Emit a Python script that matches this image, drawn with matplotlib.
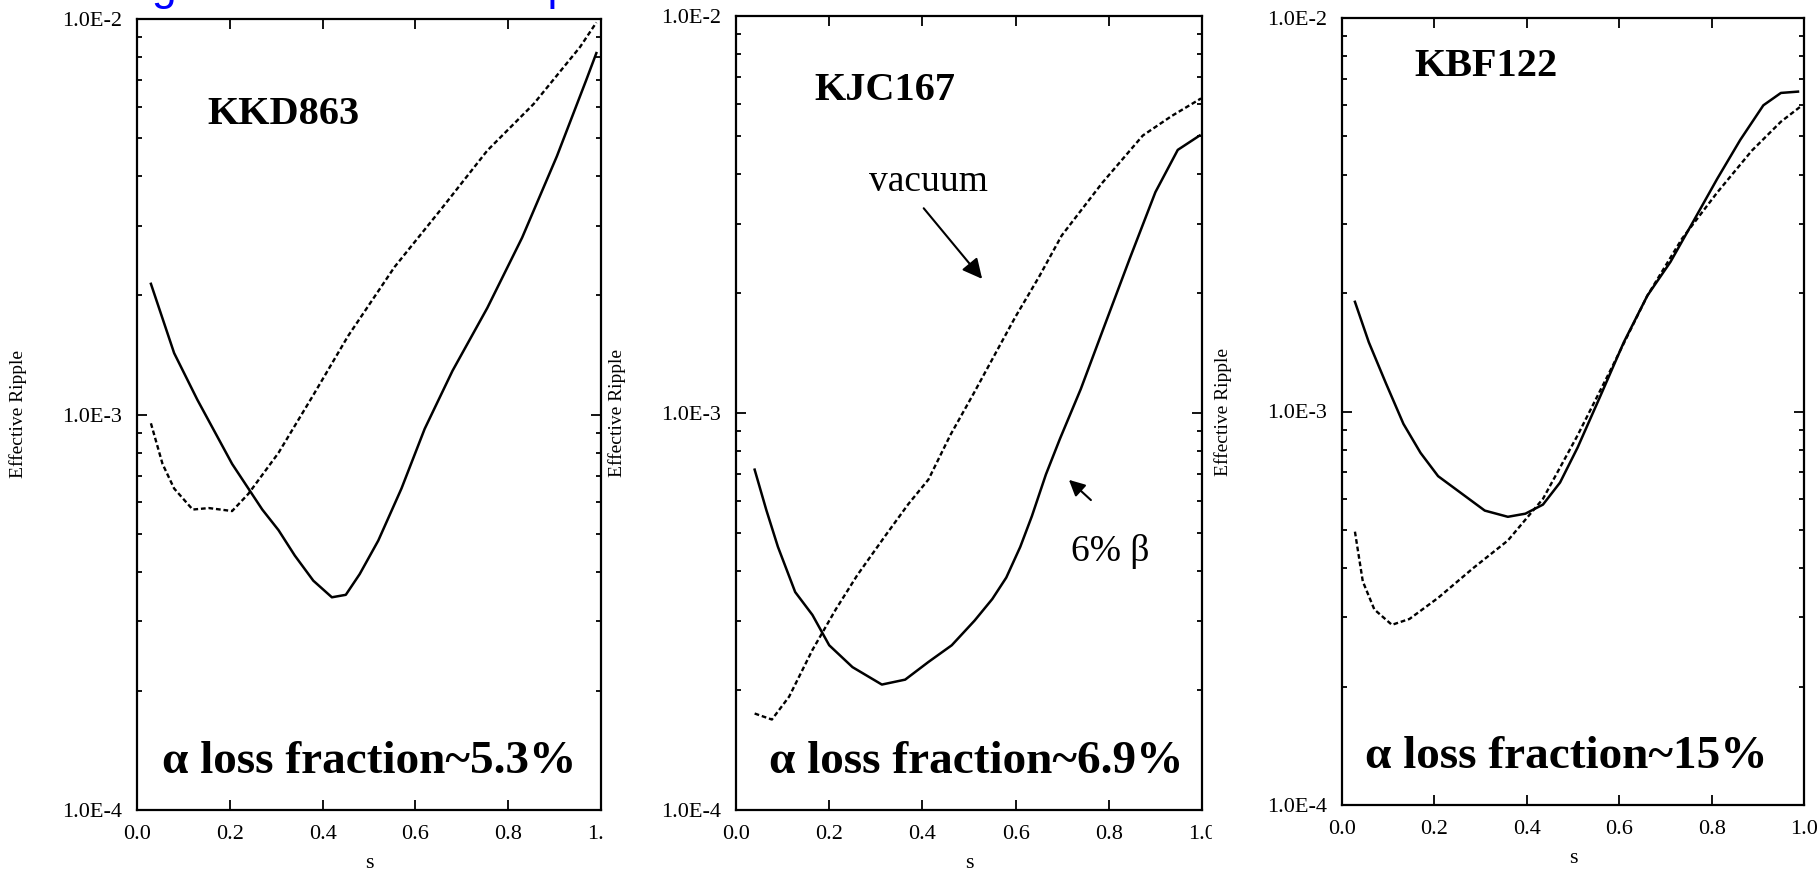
import numpy as np
import matplotlib.pyplot as plt
from matplotlib.ticker import FixedLocator, FixedFormatter, LogLocator, NullFormatter
from matplotlib.patches import Rectangle

plt.rcParams['font.family'] = ['Liberation Serif', 'DejaVu Serif']

# --- effective ripple vs s, read per configuration ---
names = ["KKD863", "KJC167", "KBF122"]
loss_labels = ["\u03b1 loss fraction~5.3%", "\u03b1 loss fraction~6.9%", "\u03b1 loss fraction~15%"]

kkd_s_solid = [0.03, 0.08, 0.13, 0.205, 0.27, 0.305, 0.34, 0.38, 0.42, 0.45, 0.48, 0.52,
               0.57, 0.62, 0.68, 0.755, 0.83, 0.905, 0.968, 0.99]
kkd_solid = [2.14e-3, 1.43e-3, 1.09e-3, 7.5e-4, 5.75e-4, 5.1e-4, 4.4e-4, 3.8e-4, 3.45e-4,
             3.5e-4, 3.95e-4, 4.8e-4, 6.5e-4, 9.2e-4, 1.29e-3, 1.86e-3, 2.8e-3, 4.5e-3,
             7.0e-3, 8.2e-3]
kkd_s_vac = [0.03, 0.055, 0.08, 0.12, 0.155, 0.205, 0.24, 0.305, 0.38, 0.455, 0.555, 0.655,
             0.755, 0.855, 0.955, 0.99]
kkd_vac = [9.5e-4, 7.5e-4, 6.5e-4, 5.75e-4, 5.8e-4, 5.7e-4, 6.3e-4, 8.0e-4, 1.12e-3, 1.58e-3,
           2.36e-3, 3.3e-3, 4.65e-3, 6.1e-3, 8.5e-3, 9.8e-3]

kjc_s_solid = [0.04, 0.065, 0.09, 0.127, 0.164, 0.2, 0.25, 0.313, 0.363, 0.413, 0.463, 0.512,
               0.55, 0.58, 0.61, 0.635, 0.665, 0.695, 0.74, 0.79, 0.845, 0.9, 0.948, 0.995]
kjc_solid = [7.2e-4, 5.7e-4, 4.6e-4, 3.54e-4, 3.1e-4, 2.6e-4, 2.29e-4, 2.07e-4, 2.13e-4,
             2.36e-4, 2.6e-4, 3.0e-4, 3.4e-4, 3.85e-4, 4.6e-4, 5.5e-4, 7.0e-4, 8.6e-4,
             1.15e-3, 1.65e-3, 2.45e-3, 3.6e-3, 4.6e-3, 5.0e-3]
kjc_s_vac = [0.04, 0.077, 0.114, 0.164, 0.214, 0.26, 0.32, 0.37, 0.413, 0.46, 0.51, 0.562,
             0.6, 0.65, 0.699, 0.786, 0.873, 0.935, 0.998]
kjc_vac = [1.75e-4, 1.69e-4, 1.93e-4, 2.53e-4, 3.2e-4, 3.9e-4, 4.9e-4, 5.9e-4, 6.8e-4, 8.8e-4,
           1.12e-3, 1.45e-3, 1.75e-3, 2.2e-3, 2.8e-3, 3.8e-3, 5.0e-3, 5.6e-3, 6.2e-3]

kbf_s_solid = [0.028, 0.058, 0.095, 0.133, 0.17, 0.208, 0.258, 0.309, 0.359, 0.397, 0.435,
               0.472, 0.51, 0.56, 0.61, 0.661, 0.711, 0.761, 0.812, 0.862, 0.912, 0.95, 0.987]
kbf_solid = [1.9e-3, 1.5e-3, 1.18e-3, 9.3e-4, 7.85e-4, 6.85e-4, 6.2e-4, 5.6e-4, 5.4e-4, 5.5e-4,
             5.8e-4, 6.6e-4, 8.1e-4, 1.1e-3, 1.5e-3, 1.97e-3, 2.4e-3, 3.05e-3, 3.9e-3, 4.9e-3,
             6.0e-3, 6.45e-3, 6.5e-3]
kbf_s_vac = [0.028, 0.045, 0.07, 0.108, 0.146, 0.208, 0.284, 0.359, 0.435, 0.51, 0.585, 0.661,
             0.736, 0.812, 0.887, 0.95, 0.992]
kbf_vac = [4.95e-4, 3.7e-4, 3.14e-4, 2.87e-4, 2.97e-4, 3.36e-4, 4.0e-4, 4.7e-4, 6.0e-4, 8.7e-4,
           1.3e-3, 1.97e-3, 2.75e-3, 3.6e-3, 4.6e-3, 5.45e-3, 5.95e-3]

y_ticks = [1e-4, 1e-3, 1e-2]
y_tick_labels = ["1.0E-4", "1.0E-3", "1.0E-2"]
x_ticks = [0.0, 0.2, 0.4, 0.6, 0.8, 1.0]
x_tick_labels = ["0.0", "0.2", "0.4", "0.6", "0.8", "1.0"]

W, H = 1819, 876
fig = plt.figure(figsize=(W / 100, H / 100), dpi=100)

# panel boxes in pixels: left, right, top, bottom
boxes = [(137, 601, 19, 810), (736, 1202, 16, 810), (1342, 1804, 18, 805)]
name_pos = [(283, 114), (885, 90), (1486, 67)]
loss_pos = [(369, 762), (976, 762), (1566, 757)]

curves = [
    (kkd_s_solid, kkd_solid, kkd_s_vac, kkd_vac),
    (kjc_s_solid, kjc_solid, kjc_s_vac, kjc_vac),
    (kbf_s_solid, kbf_solid, kbf_s_vac, kbf_vac),
]

axes = []
for i, (l, r, t, b) in enumerate(boxes):
    ax = fig.add_axes([l / W, 1 - b / H, (r - l) / W, (b - t) / H])
    axes.append(ax)
    s_sol, sol, s_vac, vac = curves[i]
    ax.plot(s_sol, sol, color="k", lw=1.8)
    ax.plot(s_vac, vac, color="k", lw=1.7, linestyle=(0, (2.0, 1.2)))

    ax.set_yscale("log")
    ax.set_xlim(0, 1)
    ax.set_ylim(1e-4, 1e-2)
    ax.yaxis.set_major_locator(FixedLocator(y_ticks))
    ax.yaxis.set_major_formatter(FixedFormatter(y_tick_labels))
    ax.yaxis.set_minor_locator(LogLocator(base=10, subs=np.arange(2, 10)))
    ax.yaxis.set_minor_formatter(NullFormatter())
    ax.xaxis.set_major_locator(FixedLocator(x_ticks))
    ax.xaxis.set_major_formatter(FixedFormatter(x_tick_labels))
    ax.tick_params(which="both", direction="in", top=True, right=True, width=1.3,
                   labelsize=16)
    ax.tick_params(which="major", length=7.5)
    ax.tick_params(which="minor", length=3.5)
    ax.tick_params(axis="y", pad=11)
    ax.tick_params(axis="x", pad=11)
    for sp in ax.spines.values():
        sp.set_linewidth(1.6)

    ax.set_ylabel("Effective Ripple", fontsize=14)
    ax.yaxis.set_label_coords(-110 / (r - l), 0.5)
    ax.set_xlabel("s", fontsize=16)
    ax.xaxis.set_label_coords(0.5, -44 / (b - t))

    nx, ny = name_pos[i]
    fig.text(nx / W, 1 - ny / H, names[i], fontsize=29, fontweight="bold",
             ha="center", va="center")
    lx, ly = loss_pos[i]
    fig.text(lx / W, 1 - ly / H, loss_labels[i], fontsize=34, fontweight="bold",
             ha="center", va="center")

# labels on the KJC167 panel
ax2 = axes[1]
ax2.text(0.414, 3.82e-3, "vacuum", fontsize=27, ha="center", va="center")
ax2.annotate("", xy=(0.532, 2.15e-3), xytext=(0.399, 3.32e-3),
             arrowprops=dict(arrowstyle="-|>", color="k", lw=1.5, mutation_scale=30))
ax2.text(0.803, 4.47e-4, "6% \u03b2", fontsize=27, ha="center", va="center")
ax2.annotate("", xy=(0.710, 6.86e-4), xytext=(0.766, 5.97e-4),
             arrowprops=dict(arrowstyle="-|>", color="k", lw=1.5, mutation_scale=24))

# neighbouring panels overlap the last x labels of the first two
fig.patches.append(Rectangle((604 / W, 1 - 852 / H), 22 / W, 34 / H,
                             transform=fig.transFigure, color="white", zorder=5))
fig.patches.append(Rectangle((1212 / W, 1 - 852 / H), 10 / W, 34 / H,
                             transform=fig.transFigure, color="white", zorder=5))

# heading running off the top edge
fig.text(48 / W, 1.0, "Configuration vs. loss map", fontsize=32,
         family="Liberation Sans", color="#0000ff", ha="left", va="baseline")

fig.savefig("out.png", dpi=100, facecolor="white")
